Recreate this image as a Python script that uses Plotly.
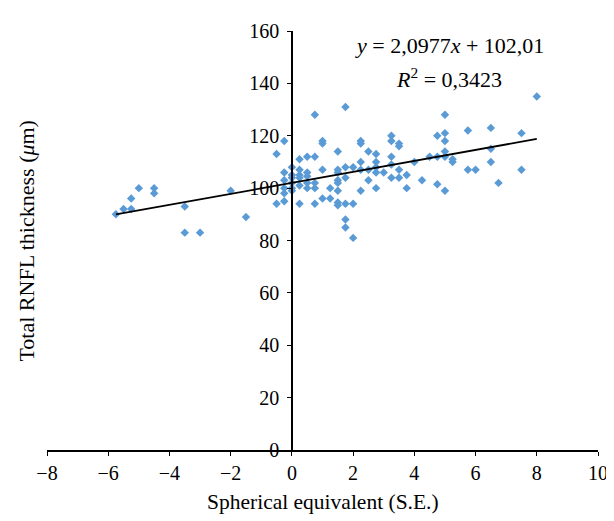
import plotly.graph_objects as go

# Spherical equivalent (S.E.) values
se = [
    -5.75, -5.5, -5.25, -5.25, -5, -4.5, -4.5, -3.5, -3.5, -3, -2, -1.5,
    -0.5, -0.5,
    -0.25, -0.25, -0.25, -0.25, -0.25, -0.25,
    0, 0, 0, 0, 0, 0,
    0.25, 0.25, 0.25, 0.25, 0.25, 0.25,
    0.5, 0.5, 0.5, 0.5, 0.5,
    0.75, 0.75, 0.75, 0.75, 0.75,
    1, 1, 1, 1,
    1.25, 1.25,
    1.5, 1.5, 1.5, 1.5, 1.5, 1.5, 1.5, 1.5,
    1.75, 1.75, 1.75, 1.75, 1.75, 1.75,
    2, 2, 2,
    2.25, 2.25, 2.25, 2.25, 2.25,
    2.5, 2.5, 2.5,
    2.75, 2.75, 2.75, 2.75, 2.75,
    3,
    3.25, 3.25, 3.25, 3.25, 3.25,
    3.5, 3.5, 3.5, 3.5,
    3.75, 3.75,
    4, 4.25, 4.5,
    4.75, 4.75, 4.75,
    5, 5, 5, 5, 5, 5,
    5.25, 5.25,
    5.75, 5.75, 6,
    6.5, 6.5, 6.5,
    6.75,
    7.5, 7.5,
    8,
]

# Total RNFL thickness (um)
rnfl = [
    90, 92, 92, 96, 100, 100, 98, 93, 83, 83, 99, 89,
    113, 94,
    118, 106, 103, 100, 98, 95,
    108, 105, 104, 102, 100, 99,
    111, 107, 105, 104, 101, 94,
    112, 106, 104.5, 102, 100,
    128, 112, 102, 100, 94,
    118, 117, 107, 96,
    100, 96,
    114, 107, 106, 103, 102, 99, 94.5, 93.5,
    131, 108, 104, 94, 88, 85,
    108, 94, 81,
    118, 117, 110, 107, 99,
    114, 107, 103,
    113, 110, 108, 106, 100,
    106,
    120, 118, 112, 109, 104,
    117, 116, 107, 104,
    105, 100,
    110, 103, 112,
    120, 112, 101.5,
    128, 121, 118, 114, 112, 99,
    111, 110,
    122, 107, 107,
    123, 115, 110,
    102,
    121, 107,
    135,
]

# Linear trend line reported on the chart
slope = 2.0977
intercept = 102.01
trend_x = [min(se), max(se)]
trend_y = [slope * v + intercept for v in trend_x]

x_ticks = [-8, -6, -4, -2, 0, 2, 4, 6, 8, 10]
y_ticks = [0, 20, 40, 60, 80, 100, 120, 140, 160]

FONT = "Liberation Serif, Times New Roman, DejaVu Serif, serif"

fig = go.Figure()
fig.add_trace(go.Scatter(
    x=se, y=rnfl, mode="markers",
    marker=dict(symbol="diamond", size=6.5, color="#5B9BD5", line=dict(width=0)),
    showlegend=False,
))
fig.add_trace(go.Scatter(
    x=trend_x, y=trend_y, mode="lines",
    line=dict(color="black", width=1.8),
    showlegend=False,
))

x0, x1 = -8, 10
fig.update_layout(
    width=614, height=521,
    margin=dict(l=39, r=24, t=23, b=79),
    paper_bgcolor="white", plot_bgcolor="white",
    font=dict(family=FONT, size=20, color="black"),
    xaxis=dict(
        range=[x0, x1], tickvals=x_ticks, showgrid=False, zeroline=False,
        showline=True, linecolor="black", linewidth=1.5,
        ticks="outside", ticklen=4, tickwidth=1.2, tickcolor="black",
        tickfont=dict(family=FONT, size=20),
        domain=[0, 1],
    ),
    yaxis=dict(
        range=[0, 160], tickvals=y_ticks, showgrid=False, zeroline=False,
        showline=True, linecolor="black", linewidth=1.5,
        ticks="outside", ticklen=4, tickwidth=1.2, tickcolor="black",
        tickfont=dict(family=FONT, size=20),
        anchor="free", position=(0 - x0) / (x1 - x0),
        ticklabelstandoff=4,
    ),
)

fig.add_annotation(
    text="Spherical equivalent (S.E.)", xref="paper", yref="paper",
    x=0.5, y=-0.123, xanchor="center", yanchor="middle", showarrow=False,
    font=dict(family=FONT, size=21.5),
)
fig.add_annotation(
    text="Total RNFL thickness (<i>μ</i>m)", xref="paper", yref="paper",
    x=-0.038, y=0.5, xanchor="center", yanchor="middle", showarrow=False,
    textangle=-90, font=dict(family=FONT, size=22),
)
fig.add_annotation(
    text="<i>y</i> = 2,0977<i>x</i> + 102,01", xref="paper", yref="paper",
    x=0.731, y=0.966, xanchor="center", yanchor="middle", showarrow=False,
    font=dict(family=FONT, size=22),
)
fig.add_annotation(
    text="<i>R</i><sup>2</sup> = 0,3423", xref="paper", yref="paper",
    x=0.729, y=0.889, xanchor="center", yanchor="middle", showarrow=False,
    font=dict(family=FONT, size=22),
)

fig.write_html("out.html")
